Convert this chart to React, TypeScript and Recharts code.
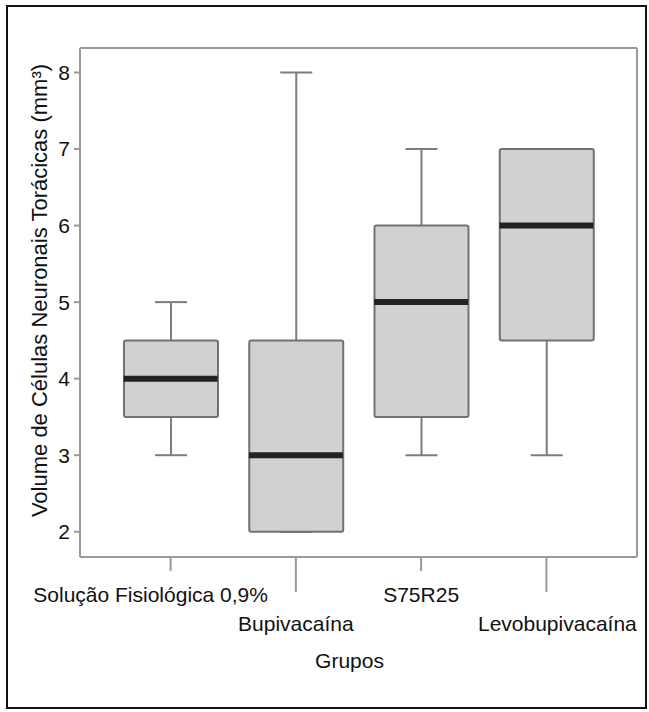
import { ComposedChart, Bar, Scatter, XAxis, YAxis, Label, CartesianGrid } from "recharts";

const groups = ["Solução Fisiológica 0,9%", "Bupivacaína", "S75R25", "Levobupivacaína"];
const minimum = [3, 2, 3, 3];
const q1 = [3.5, 2, 3.5, 4.5];
const median = [4, 3, 5, 6];
const q3 = [4.5, 4.5, 6, 7];
const maximum = [5, 8, 7, 7];
const yTicks = [2, 3, 4, 5, 6, 7, 8];

const chartData = groups.map((group, i) => ({
  group,
  whisker: [minimum[i], maximum[i]],
  box: [q1[i], q3[i]],
  median: median[i],
}));

const FONT = '"Liberation Sans", Arial, sans-serif';
const BOX_WIDTH = 94;
const CAP_WIDTH = 32;
const AXIS_GRAY = "#9a9a9a";

function WhiskerShape(props: any) {
  const { x, y, width, height } = props;
  const cx = x + width / 2;
  const top = Math.min(y, y + height);
  const bottom = Math.max(y, y + height);
  return (
    <g stroke="#7d7d7d" strokeWidth={2}>
      <line x1={cx} x2={cx} y1={top} y2={bottom} />
      <line x1={cx - CAP_WIDTH / 2} x2={cx + CAP_WIDTH / 2} y1={top} y2={top} />
      <line x1={cx - CAP_WIDTH / 2} x2={cx + CAP_WIDTH / 2} y1={bottom} y2={bottom} />
    </g>
  );
}

function BoxShape(props: any) {
  const { x, y, width, height } = props;
  const top = Math.min(y, y + height);
  return (
    <rect
      x={x}
      y={top}
      width={width}
      height={Math.abs(height)}
      rx={2}
      fill="#d0d1d3"
      stroke="#727272"
      strokeWidth={2}
    />
  );
}

function MedianShape(props: any) {
  const { cx, cy } = props;
  return (
    <line
      x1={cx - BOX_WIDTH / 2}
      x2={cx + BOX_WIDTH / 2}
      y1={cy}
      y2={cy}
      stroke="#222"
      strokeWidth={6}
    />
  );
}

// SPSS staggers the category labels on two rows
function GroupTick(props: any) {
  const { x, y, payload, index } = props;
  const low = index % 2 === 1;
  const shift = index === 0 ? -20 : index === 3 ? 11 : 0;
  return (
    <g>
      <line x1={x} x2={x} y1={y} y2={y + (low ? 35 : 14)} stroke={AXIS_GRAY} strokeWidth={2} />
      <text
        x={x + shift}
        y={y + (low ? 74 : 45)}
        textAnchor="middle"
        fontSize={21}
        fontFamily={FONT}
        fill="#111"
      >
        {payload.value}
      </text>
    </g>
  );
}

export default function App() {
  return (
    <div style={{ position: "absolute", left: 0, top: 0, width: 649, height: 712, background: "#fff" }}>
      <div
        style={{
          position: "absolute",
          left: 6,
          top: 5,
          width: 641,
          height: 704,
          border: "2px solid #111",
          boxSizing: "border-box",
        }}
      />
      <div style={{ position: "absolute", left: 0, top: 0 }}>
        <ComposedChart
          width={649}
          height={712}
          data={chartData}
          margin={{ top: 48, right: 12, bottom: 35, left: 40 }}
          barSize={BOX_WIDTH}
          barGap={-BOX_WIDTH}
        >
          {/* plot frame: grid lines only on the four edges */}
          <CartesianGrid
            stroke={AXIS_GRAY}
            strokeWidth={2}
            horizontalCoordinatesGenerator={({ offset }: any) => [offset.top, offset.top + offset.height]}
            verticalCoordinatesGenerator={({ offset }: any) => [offset.left, offset.left + offset.width]}
          />
          <XAxis
            dataKey="group"
            interval={0}
            height={120}
            padding={{ left: 28, right: 28 }}
            tickSize={0}
            tickMargin={0}
            tickLine={false}
            axisLine={{ stroke: AXIS_GRAY, strokeWidth: 2 }}
            tick={<GroupTick />}
          >
            <Label
              content={({ viewBox }: any) => (
                <text
                  x={viewBox.x + viewBox.width / 2 - 9}
                  y={viewBox.y + 111}
                  textAnchor="middle"
                  fontSize={21}
                  fontFamily={FONT}
                  fill="#111"
                >
                  Grupos
                </text>
              )}
            />
          </XAxis>
          <YAxis
            type="number"
            domain={[1.67, 8.32]}
            ticks={yTicks}
            allowDataOverflow
            width={40}
            tickSize={6}
            tickMargin={4}
            tickLine={{ stroke: AXIS_GRAY, strokeWidth: 2 }}
            axisLine={{ stroke: AXIS_GRAY, strokeWidth: 2 }}
            tick={{ fontSize: 21, fontFamily: FONT, fill: "#111" }}
          >
            <Label
              content={({ viewBox }: any) => {
                const cx = 47;
                const cy = viewBox.y + viewBox.height / 2 - 12;
                return (
                  <text
                    x={cx}
                    y={cy}
                    transform={`rotate(-90, ${cx}, ${cy})`}
                    textAnchor="middle"
                    fontSize={22}
                    fontFamily={FONT}
                    fill="#111"
                  >
                    Volume de Células Neuronais Torácicas (mm³)
                  </text>
                );
              }}
            />
          </YAxis>
          <Bar dataKey="whisker" shape={<WhiskerShape />} isAnimationActive={false} />
          <Bar dataKey="box" shape={<BoxShape />} isAnimationActive={false} />
          <Scatter dataKey="median" shape={<MedianShape />} isAnimationActive={false} />
        </ComposedChart>
      </div>
    </div>
  );
}
